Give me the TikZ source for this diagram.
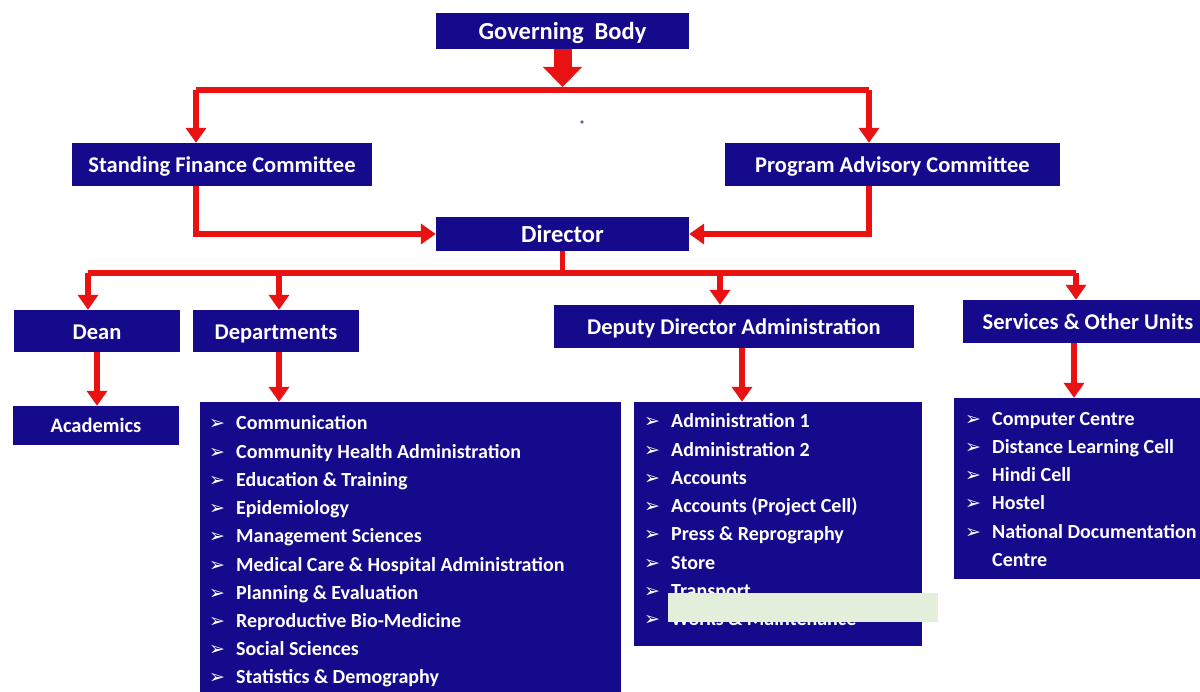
\documentclass[tikz,border=0pt]{standalone}
\usepackage{fontspec}
\setmainfont{Carlito}
\newfontfamily\symfont{DejaVu Sans}
\usetikzlibrary{arrows.meta,calc}
\definecolor{navy}{RGB}{22,10,140}
\definecolor{arrred}{RGB}{232,18,18}
\definecolor{paleg}{RGB}{226,239,218}
\begin{document}
\begin{tikzpicture}[x=1pt,y=-1pt,
  box/.style={fill=navy, text=white, inner sep=0pt, text height=19pt, text depth=2pt, font=\bfseries\fontsize{22.5}{24}\selectfont},
  bigbox/.style={box, text height=20pt, text depth=2pt, font=\bfseries\fontsize{24.5}{27}\selectfont},
  listbox/.style={fill=navy, inner sep=0pt},
  lbl/.style={text=white, inner sep=0pt, text height=19pt, text depth=2pt, font=\bfseries\fontsize{22.5}{24}\selectfont},
  arr/.style={draw=arrred, line width=5.5pt, -{Triangle[width=20pt,length=15pt]}},
  rline/.style={draw=arrred, line width=5.5pt},
  bul/.style={text=white, inner sep=0pt, anchor=base west, font=\symfont\fontsize{19}{19}\selectfont},
  item/.style={text=white, inner sep=0pt, anchor=base west, font=\bfseries\fontsize{20}{24}\selectfont},
  cover/.style={fill=paleg, inner sep=0pt}]
\useasboundingbox (0,0) rectangle (1200,692);
\fill[white] (0,0) rectangle (1200,692);

% boxes
\node[bigbox, minimum width=253, minimum height=36] (gb) at (562.5,31) {Governing\ \ Body};
\node[box, minimum width=300, minimum height=43] (sfc) at (222,164.5) {Standing Finance Committee};
\node[box, minimum width=335, minimum height=43] (pac) at (892.5,164.5) {Program Advisory Committee};
\node[bigbox, minimum width=253, minimum height=34] (dir) at (562.5,234) {Director};
\node[box, minimum width=166, minimum height=42] (dean) at (97,331) {Dean};
\node[box, minimum width=166, minimum height=42] (dept) at (276,331) {Departments};
\node[box, minimum width=360, minimum height=43] (dda) at (734,326.5) {Deputy Director Administration};
\node[box, minimum width=237, minimum height=43] (svc) at (1081.5,321.5) {};
\node[lbl] (svct) at (1088,321.5) {Services \& Other Units};
\node[box, minimum width=166, minimum height=39, text height=17pt, text depth=2pt, font=\bfseries\fontsize{20.5}{24}\selectfont] (acad) at (96,425.5) {Academics};
\node[listbox, minimum width=421, minimum height=290] (deptlist) at (410.5,547) {};
\node[listbox, minimum width=288, minimum height=244] (ddalist) at (778,524) {};
\node[listbox, minimum width=246, minimum height=181] (svclist) at (1077,488.5) {};

% list items
\foreach \t [count=\i] in {Communication, Community Health Administration, Education \& Training, Epidemiology, Management Sciences, Medical Care \& Hospital Administration, Planning \& Evaluation, Reproductive Bio-Medicine, Social Sciences, Statistics \& Demography} {
  \node[bul] (db\i) at (209,{430+28.2*(\i-1)}) {➢};
  \node[item] (dt\i) at (236,{430+28.2*(\i-1)}) {\t};
}
\foreach \t [count=\i] in {Administration 1, Administration 2, Accounts, Accounts (Project Cell), Press \& Reprography, Store, Transport, Works \& Maintenance} {
  \node[bul] (ab\i) at (644,{428+28.2*(\i-1)}) {➢};
  \node[item] (at\i) at (671,{428+28.2*(\i-1)}) {\t};
}
\foreach \t [count=\i] in {Computer Centre, Distance Learning Cell, Hindi Cell, Hostel, National Documentation} {
  \node[bul] (sb\i) at (965,{426+28*(\i-1)}) {➢};
  \node[item] (st\i) at (992,{426+28*(\i-1)}) {\t};
}
\node[item] (st6) at (992,566) {Centre};

% cover patch
\node[cover, minimum width=270, minimum height=29] (patch) at (803,607.5) {};

% small dot
\fill[black!50!blue!60] (582,122) circle (1.8);

% connectors
\coordinate (jt) at (562.5,90);
\coordinate (jL) at (196,90);
\coordinate (jR) at (869,90);
\draw[draw=arrred, line width=18pt, -{Triangle[width=38pt,length=20pt]}] (gb.south) -- ($(jt)+(0,-3)$);
\draw[rline] (jL) -- (jR);
\draw[arr] (jL) -- (jL |- sfc.north);
\draw[arr] (jR) -- (jR |- pac.north);
\draw[arr] (sfc.south -| jL) |- (dir.west);
\draw[arr] (pac.south -| jR) |- (dir.east);

\coordinate (jb) at (562.5,273);
\coordinate (b1) at (88,273);
\coordinate (b2) at (279,273);
\coordinate (b3) at (720,273);
\coordinate (b4) at (1076,273);
\draw[rline] (dir.south) -- (jb);
\draw[rline] (b1) -- (b4);
\draw[arr] (b1) -- (b1 |- dean.north);
\draw[arr] (b2) -- (b2 |- dept.north);
\draw[arr] (b3) -- (b3 |- dda.north);
\draw[arr] (b4) -- (b4 |- svc.north);

\coordinate (dd) at ($(dda.south)+(8,0)$);
\coordinate (sd) at ($(svc.south)+(-7.5,0)$);
\draw[arr] (dean.south) -- (dean.south |- acad.north);
\draw[arr] (dept.south -| b2) -- (b2 |- deptlist.north);
\draw[arr] (dd) -- (dd |- ddalist.north);
\draw[arr] (sd) -- (sd |- svclist.north);
\end{tikzpicture}
\end{document}
